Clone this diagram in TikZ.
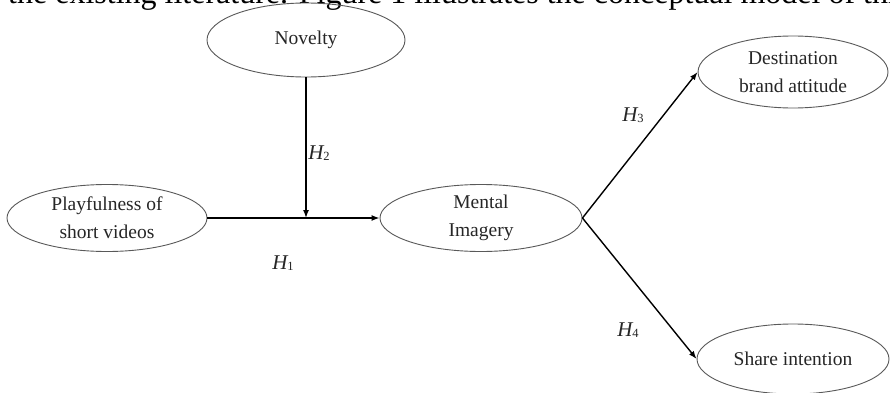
\documentclass[tikz,border=0pt]{standalone}
\usepackage{fontspec}
\setmainfont{Liberation Serif}
\usetikzlibrary{shapes.geometric,arrows.meta}

\tikzset{
  construct/.style={draw=black!65, line width=0.9pt, ellipse, inner sep=0pt,
    align=center, text=black!85,
    font=\fontsize{19.5}{28}\selectfont},
  path/.style={draw=black, line width=1.4pt, -{Latex[length=8pt,width=6pt]}},
  hyp/.style={inner sep=0pt, text=black!85}
}
\newcommand{\hlabel}[1]{{\fontsize{21}{21}\selectfont\itshape H}\raisebox{-1pt}{\fontsize{12.5}{12.5}\selectfont #1}}

\begin{document}
\begin{tikzpicture}[x=1pt,y=1pt]
  \useasboundingbox (0,0) rectangle (890,392);
  \clip (0,0) rectangle (890,392);
  \fill[white] (0,0) rectangle (890,392);

  % running text line above the figure, cut by the page edge
  \node[anchor=base west, inner sep=0pt, font=\fontsize{32}{32}\selectfont]
    (runtext) at (8,388) {the existing literature. Figure 1 illustrates the conceptual model of this};

  % constructs
  \node[construct, minimum width=198pt, minimum height=74pt] (nov) at (306,352) {Novelty};
  \node[construct, minimum width=200pt, minimum height=67pt] (play) at (107,174) {Playfulness of\\short videos};
  \node[construct, minimum width=202pt, minimum height=67pt] (ment) at (481,174) {Mental\\Imagery};
  \node[construct, minimum width=190pt, minimum height=72pt] (dest) at (793,320) {Destination\\brand attitude};
  \node[construct, minimum width=192pt, minimum height=70pt] (share) at (793,33) {Share intention};

  % paths
  \coordinate (junc) at (306,174);
  \draw[path] (play) -- (ment);
  \draw[path] (nov) -- (junc);
  \draw[path] (ment.east) -- (dest.west);
  \draw[path] (ment.east) -- (share.west);

  % hypothesis labels
  \node[hyp] (h1) at (283,129) {\hlabel{1}};
  \node[hyp] (h2) at (319,239) {\hlabel{2}};
  \node[hyp] (h3) at (633,277) {\hlabel{3}};
  \node[hyp] (h4) at (628,62) {\hlabel{4}};
\end{tikzpicture}
\end{document}
